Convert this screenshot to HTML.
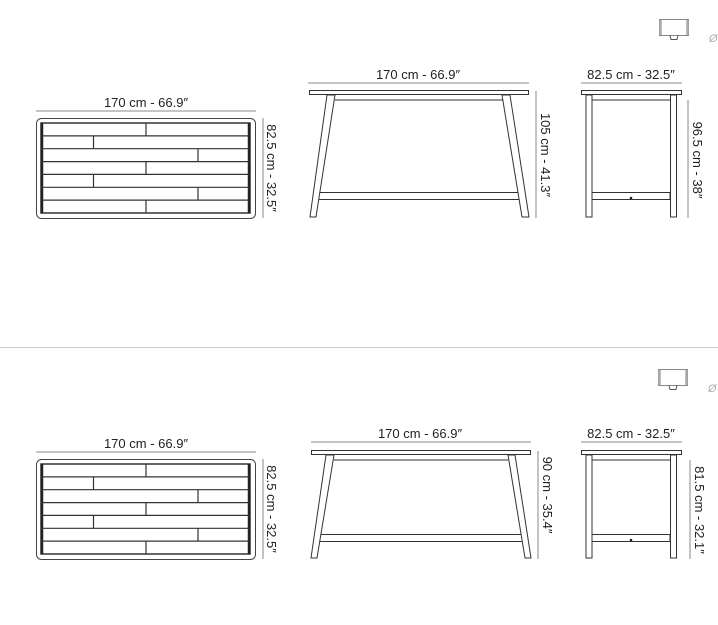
<!DOCTYPE html>
<html><head><meta charset="utf-8"><style>
html,body{margin:0;padding:0;background:#fff;}
svg{display:block;}
text{font-family:"Liberation Sans",sans-serif;font-size:13px;fill:#222;}
</style></head><body>
<svg width="718" height="625" viewBox="0 0 718 625" xmlns="http://www.w3.org/2000/svg">
<defs>
<g id="topview">
  <line x1="36" y1="111" x2="256" y2="111" stroke="#888" stroke-width="1"/>
  <text x="146" y="107" text-anchor="middle">170 cm - 66.9″</text>
  <rect x="36.5" y="118.5" width="219" height="100" rx="5" fill="#fff" stroke="#444" stroke-width="1"/>
  <rect x="41" y="123" width="209" height="90" fill="#fff" stroke="#333" stroke-width="1.5"/>
  <line x1="42" y1="123" x2="42" y2="213" stroke="#222" stroke-width="2.5"/>
  <line x1="249" y1="123" x2="249" y2="213" stroke="#222" stroke-width="2.5"/>
  <g stroke="#333" stroke-width="1.2">
    <line x1="41" y1="135.9" x2="250" y2="135.9"/>
    <line x1="41" y1="148.7" x2="250" y2="148.7"/>
    <line x1="41" y1="161.6" x2="250" y2="161.6"/>
    <line x1="41" y1="174.4" x2="250" y2="174.4"/>
    <line x1="41" y1="187.3" x2="250" y2="187.3"/>
    <line x1="41" y1="200.1" x2="250" y2="200.1"/>
    <line x1="146" y1="123" x2="146" y2="135.9"/>
    <line x1="93.5" y1="135.9" x2="93.5" y2="148.7"/>
    <line x1="198" y1="148.7" x2="198" y2="161.6"/>
    <line x1="146" y1="161.6" x2="146" y2="174.4"/>
    <line x1="93.5" y1="174.4" x2="93.5" y2="187.3"/>
    <line x1="198" y1="187.3" x2="198" y2="200.1"/>
    <line x1="146" y1="200.1" x2="146" y2="213"/>
  </g>
  <line x1="263" y1="118" x2="263" y2="218" stroke="#888" stroke-width="1"/>
  <text transform="translate(267,168) rotate(90)" text-anchor="middle">82.5 cm - 32.5″</text>
</g>
<g id="icon">
  <rect x="659.5" y="19.5" width="29" height="16" fill="#fff" stroke="#888" stroke-width="1"/>
  <line x1="660.5" y1="20" x2="660.5" y2="35" stroke="#aaa" stroke-width="2.5"/>
  <line x1="687.5" y1="20" x2="687.5" y2="35" stroke="#aaa" stroke-width="2.5"/>
  <path d="M670 35.5 L671 39.5 L677 39.5 L678 35.5" fill="none" stroke="#555" stroke-width="1"/>
  <text x="709" y="42" style="font-size:11px;fill:#aaa;font-style:italic">Ø</text>
</g>
</defs>

<use href="#topview"/>
<use href="#topview" transform="translate(0,341)"/>
<use href="#icon"/>
<use href="#icon" transform="translate(-1,350)"/>

<line x1="0" y1="347.5" x2="718" y2="347.5" stroke="#ccc" stroke-width="1"/>

<g stroke="#333" stroke-width="1" fill="#fff">
  <line x1="308" y1="83" x2="529" y2="83" stroke="#888"/>
  <rect x="309.5" y="90.5" width="219" height="4"/>
  <line x1="335" y1="100" x2="503" y2="100"/>
  <rect x="318" y="192.5" width="205" height="7"/>
  <polygon points="327,95 335,95 316,217 310,217"/>
  <polygon points="502,95 510,95 529,217 522,217"/>
  <line x1="536" y1="91" x2="536" y2="218" stroke="#888"/>
  <line x1="581" y1="83" x2="682" y2="83" stroke="#888"/>
  <rect x="581.5" y="90.5" width="100" height="4"/>
  <line x1="592" y1="100" x2="670" y2="100"/>
  <rect x="592" y="192.5" width="78" height="7"/>
  <rect x="586" y="95" width="6" height="122"/>
  <rect x="670.5" y="95" width="6" height="122"/>
  <line x1="688" y1="100" x2="688" y2="218" stroke="#888"/>
</g>
<circle cx="631" cy="198" r="1.3" fill="#222"/>
<text x="418" y="79" text-anchor="middle">170 cm - 66.9″</text>
<text transform="translate(541,155) rotate(90)" text-anchor="middle">105 cm - 41.3″</text>
<text x="631" y="79" text-anchor="middle">82.5 cm - 32.5″</text>
<text transform="translate(693,160) rotate(90)" text-anchor="middle">96.5 cm - 38″</text>

<g stroke="#333" stroke-width="1" fill="#fff">
  <line x1="311" y1="442" x2="531" y2="442" stroke="#888"/>
  <rect x="311.5" y="450.5" width="219" height="4"/>
  <line x1="334" y1="460" x2="508" y2="460"/>
  <rect x="319" y="534.5" width="206" height="7"/>
  <polygon points="326,455 334,455 317,558 311,558"/>
  <polygon points="508,455 515,455 531,558 525,558"/>
  <line x1="538" y1="451" x2="538" y2="559" stroke="#888"/>
  <line x1="581" y1="442" x2="682" y2="442" stroke="#888"/>
  <rect x="581.5" y="450.5" width="100" height="4"/>
  <line x1="592" y1="460" x2="670" y2="460"/>
  <rect x="592" y="534.5" width="78" height="7"/>
  <rect x="586" y="455" width="6" height="103"/>
  <rect x="670.5" y="455" width="6" height="103"/>
  <line x1="690" y1="460" x2="690" y2="559" stroke="#888"/>
</g>
<circle cx="631" cy="540" r="1.3" fill="#222"/>
<text x="420" y="438" text-anchor="middle">170 cm - 66.9″</text>
<text transform="translate(543,495) rotate(90)" text-anchor="middle">90 cm - 35.4″</text>
<text x="631" y="438" text-anchor="middle">82.5 cm - 32.5″</text>
<text transform="translate(695,510) rotate(90)" text-anchor="middle">81.5 cm - 32.1″</text>
</svg>
</body></html>
